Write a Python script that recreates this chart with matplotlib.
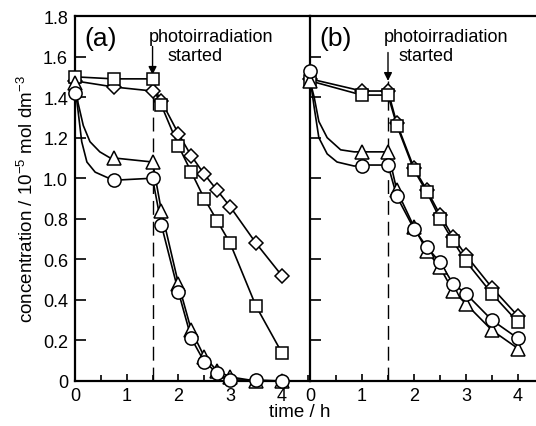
import matplotlib.pyplot as plt
from matplotlib.ticker import MultipleLocator

plt.rcParams['font.family'] = ['Liberation Sans', 'DejaVu Sans']
plt.rcParams['mathtext.fontset'] = 'custom'
plt.rcParams['mathtext.rm'] = 'Liberation Sans'
plt.rcParams['mathtext.default'] = 'regular'

# panel (a) data
t_a = [0, 0.75, 1.5, 1.67, 2, 2.25, 2.5, 2.75, 3, 3.5, 4]
square_a = [1.50, 1.49, 1.49, 1.36, 1.16, 1.03, 0.90, 0.79, 0.68, 0.37, 0.14]
diamond_a = [1.48, 1.45, 1.43, 1.38, 1.22, 1.11, 1.02, 0.94, 0.86, 0.68, 0.52]
triangle_a = [1.47, 1.10, 1.08, 0.84, 0.48, 0.25, 0.12, 0.05, 0.02, 0.0, 0.0]
circle_a = [1.42, 0.99, 1.00, 0.77, 0.44, 0.21, 0.095, 0.04, 0.005, 0.005, 0.0]

# fitted adsorption curves before irradiation, panel (a)
tri_curve_t_a = [0, 0.02, 0.06, 0.16, 0.29, 0.48, 0.68, 0.75]
tri_curve_y_a = [1.47, 1.44, 1.37, 1.26, 1.18, 1.13, 1.10, 1.10]
cir_curve_t_a = [0, 0.03, 0.06, 0.13, 0.23, 0.39, 0.61, 0.75]
cir_curve_y_a = [1.42, 1.39, 1.33, 1.18, 1.08, 1.03, 1.005, 0.99]

# panel (b) data
t_b = [0, 1.0, 1.5, 1.67, 2, 2.25, 2.5, 2.75, 3, 3.5, 4]
square_b = [1.48, 1.41, 1.41, 1.26, 1.04, 0.93, 0.80, 0.69, 0.59, 0.43, 0.29]
diamond_b = [1.49, 1.43, 1.43, 1.27, 1.05, 0.94, 0.82, 0.71, 0.62, 0.46, 0.32]
triangle_b = [1.48, 1.13, 1.13, 0.94, 0.76, 0.64, 0.56, 0.445, 0.38, 0.25, 0.16]
circle_b = [1.53, 1.06, 1.065, 0.91, 0.75, 0.66, 0.585, 0.48, 0.43, 0.30, 0.21]

tri_curve_t_b = [0, 0.03, 0.08, 0.17, 0.33, 0.59, 0.85, 1.0]
tri_curve_y_b = [1.48, 1.45, 1.40, 1.28, 1.20, 1.14, 1.13, 1.13]
cir_curve_t_b = [0, 0.03, 0.08, 0.17, 0.33, 0.52, 0.85, 1.0]
cir_curve_y_b = [1.50, 1.44, 1.35, 1.20, 1.12, 1.08, 1.06, 1.065]

yticks = [0, 0.2, 0.4, 0.6, 0.8, 1.0, 1.2, 1.4, 1.6, 1.8]
ytick_labels = ['0', '0.2', '0.4', '0.6', '0.8', '1.0', '1.2', '1.4', '1.6', '1.8']

W, H = 536, 427
fig = plt.figure(figsize=(W / 100, H / 100), dpi=100)
ax_a = fig.add_axes([75 / W, 1 - 382 / H, (310 - 75) / W, (382 - 17) / H])
ax_b = fig.add_axes([310 / W, 1 - 382 / H, (W - 310) / W, (382 - 17) / H])

mk = dict(color='black', lw=1.2, mfc='white', mec='black', mew=1.1, clip_on=False)


def draw_panel(ax, t, square, diamond, triangle, circle,
               tc_t, tc_y, cc_t, cc_y, xmax, label, dash_top, arrow_y, txt_x):
    # line segments
    ax.plot(t, diamond, color='black', lw=1.2, zorder=2)
    ax.plot(t, square, color='black', lw=1.2, zorder=2)
    ax.plot(tc_t + t[2:], tc_y + triangle[2:], color='black', lw=1.2, zorder=2)
    ax.plot(cc_t + t[2:], cc_y + circle[2:], color='black', lw=1.2, zorder=2)
    # markers
    ax.plot(t, diamond, ls='none', marker='D', ms=7.5, zorder=3, **mk)
    ax.plot(t, square, ls='none', marker='s', ms=8.5, zorder=4, **mk)
    ax.plot(t, triangle, ls='none', marker='^', ms=10, zorder=5, **mk)
    ax.plot(t, circle, ls='none', marker='o', ms=9.5, zorder=6, **mk)

    ax.plot([1.5, 1.5], [0, dash_top], color='black', lw=1.0,
            dashes=(10, 5), zorder=1)

    ax.annotate('', xy=(1.5, arrow_y[1]), xytext=(1.5, arrow_y[0]),
                arrowprops=dict(arrowstyle='-|>', color='black', lw=1.0,
                                mutation_scale=12, shrinkA=0, shrinkB=0))
    ax.text(txt_x[0], 1.70, 'photoirradiation', fontsize=13, ha='left', va='center')
    ax.text(txt_x[1], 1.605, 'started', fontsize=13, ha='left', va='center')
    ax.text(0.18, 1.69, label, fontsize=19, ha='left', va='center')

    ax.set_xlim(0, xmax)
    ax.set_ylim(0, 1.8)
    ax.xaxis.set_major_locator(MultipleLocator(1))
    ax.xaxis.set_minor_locator(MultipleLocator(0.5))
    ax.set_yticks(yticks)
    ax.tick_params(axis='both', which='both', direction='in', labelsize=13)
    ax.tick_params(axis='x', which='major', length=5, width=1.2, pad=4)
    ax.tick_params(axis='x', which='minor', length=4, width=1.2)
    ax.tick_params(axis='y', length=8, width=1.2, pad=5)
    ax.spines['right'].set_visible(False)
    for s in ['left', 'bottom', 'top']:
        ax.spines[s].set_linewidth(1.6)


draw_panel(ax_a, t_a, square_a, diamond_a, triangle_a, circle_a,
           tri_curve_t_a, tri_curve_y_a, cir_curve_t_a, cir_curve_y_a,
           235 / 51.7, '(a)', 1.45, (1.65, 1.51), (1.43, 1.78))
ax_a.set_yticklabels(ytick_labels)
ax_a.set_ylabel('concentration / 10$^{-5}$ mol dm$^{-3}$', fontsize=13.5, labelpad=4)

draw_panel(ax_b, t_b, square_b, diamond_b, triangle_b, circle_b,
           tri_curve_t_b, tri_curve_y_b, cir_curve_t_b, cir_curve_y_b,
           226 / 52, '(b)', 1.48, (1.62, 1.48), (1.42, 1.71))
ax_b.set_yticklabels([])

fig.text(300 / W, 1 - 413 / H, 'time / h', fontsize=13.5, ha='center', va='center')

fig.savefig('out.png', dpi=100)
